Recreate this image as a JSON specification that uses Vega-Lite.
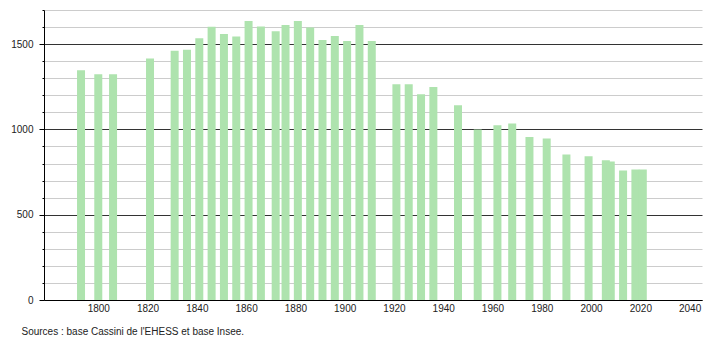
{
  "$schema": "https://vega.github.io/schema/vega-lite/v6.json",
  "width": 658,
  "height": 290,
  "autosize": {"type": "none"},
  "padding": {"left": 44, "top": 10, "right": 8, "bottom": 40},
  "background": "white",
  "config": {"view": {"stroke": null}, "font": "Liberation Sans"},
  "data": {"values": [
    {"year": 1793, "pop": 1347},
    {"year": 1800, "pop": 1323},
    {"year": 1806, "pop": 1323},
    {"year": 1821, "pop": 1416},
    {"year": 1831, "pop": 1461},
    {"year": 1836, "pop": 1467},
    {"year": 1841, "pop": 1535},
    {"year": 1846, "pop": 1602},
    {"year": 1851, "pop": 1559},
    {"year": 1856, "pop": 1545},
    {"year": 1861, "pop": 1635},
    {"year": 1866, "pop": 1604},
    {"year": 1872, "pop": 1576},
    {"year": 1876, "pop": 1612},
    {"year": 1881, "pop": 1635},
    {"year": 1886, "pop": 1598},
    {"year": 1891, "pop": 1524},
    {"year": 1896, "pop": 1547},
    {"year": 1901, "pop": 1518},
    {"year": 1906, "pop": 1612},
    {"year": 1911, "pop": 1518},
    {"year": 1921, "pop": 1265},
    {"year": 1926, "pop": 1265},
    {"year": 1931, "pop": 1206},
    {"year": 1936, "pop": 1249},
    {"year": 1946, "pop": 1141},
    {"year": 1954, "pop": 1000},
    {"year": 1962, "pop": 1024},
    {"year": 1968, "pop": 1035},
    {"year": 1975, "pop": 955},
    {"year": 1982, "pop": 947},
    {"year": 1990, "pop": 853},
    {"year": 1999, "pop": 843},
    {"year": 2006, "pop": 819},
    {"year": 2008, "pop": 812},
    {"year": 2013, "pop": 759},
    {"year": 2018, "pop": 765},
    {"year": 2021, "pop": 765}
  ]},
  "mark": {"type": "bar", "width": 8, "color": "#aee3ae"},
  "encoding": {
    "x": {
      "field": "year",
      "type": "quantitative",
      "scale": {"domain": [1780, 2043], "nice": false, "zero": false},
      "axis": {
        "values": [1800, 1820, 1840, 1860, 1880, 1900, 1920, 1940, 1960, 1980, 2000, 2020, 2040],
        "format": "d",
        "grid": false,
        "ticks": false,
        "tickSize": 0,
        "labelPadding": 3,
        "labelFontSize": 10,
        "labelColor": "#222",
        "labelBaseline": "top",
        "domainColor": "#000",
        "domainWidth": 1,
        "title": "Sources : base Cassini de l'EHESS et base Insee.",
        "titleX": -23,
        "titleY": 34,
        "titleAlign": "left",
        "titleAnchor": "start",
        "titleAngle": 0,
        "titleBaseline": "alphabetic",
        "titleFontSize": 10,
        "titleFontWeight": "normal",
        "titleColor": "#222",
        "labelFlush": false,
        "labelOverlap": false
      }
    },
    "y": {
      "field": "pop",
      "type": "quantitative",
      "scale": {"domain": [0, 1700], "nice": false},
      "axis": {
        "values": [0, 100, 200, 300, 400, 500, 600, 700, 800, 900, 1000, 1100, 1200, 1300, 1400, 1500, 1600, 1700],
        "labelExpr": "datum.value % 500 === 0 ? datum.value : ''",
        "grid": true,
        "gridColor": {"condition": {"test": "datum.value % 500 === 0", "value": "#333333"}, "value": "#cccccc"},
        "gridOpacity": 1,
        "gridWidth": 1,
        "ticks": true,
        "tickColor": "#000",
        "tickSize": {"condition": {"test": "datum.value % 500 === 0", "value": 5}, "value": 2},
        "labelPadding": 6,
        "labelFontSize": 10,
        "labelColor": "#222",
        "domainColor": "#000",
        "domainWidth": 1,
        "title": null,
        "labelOverlap": false
      }
    }
  }
}
